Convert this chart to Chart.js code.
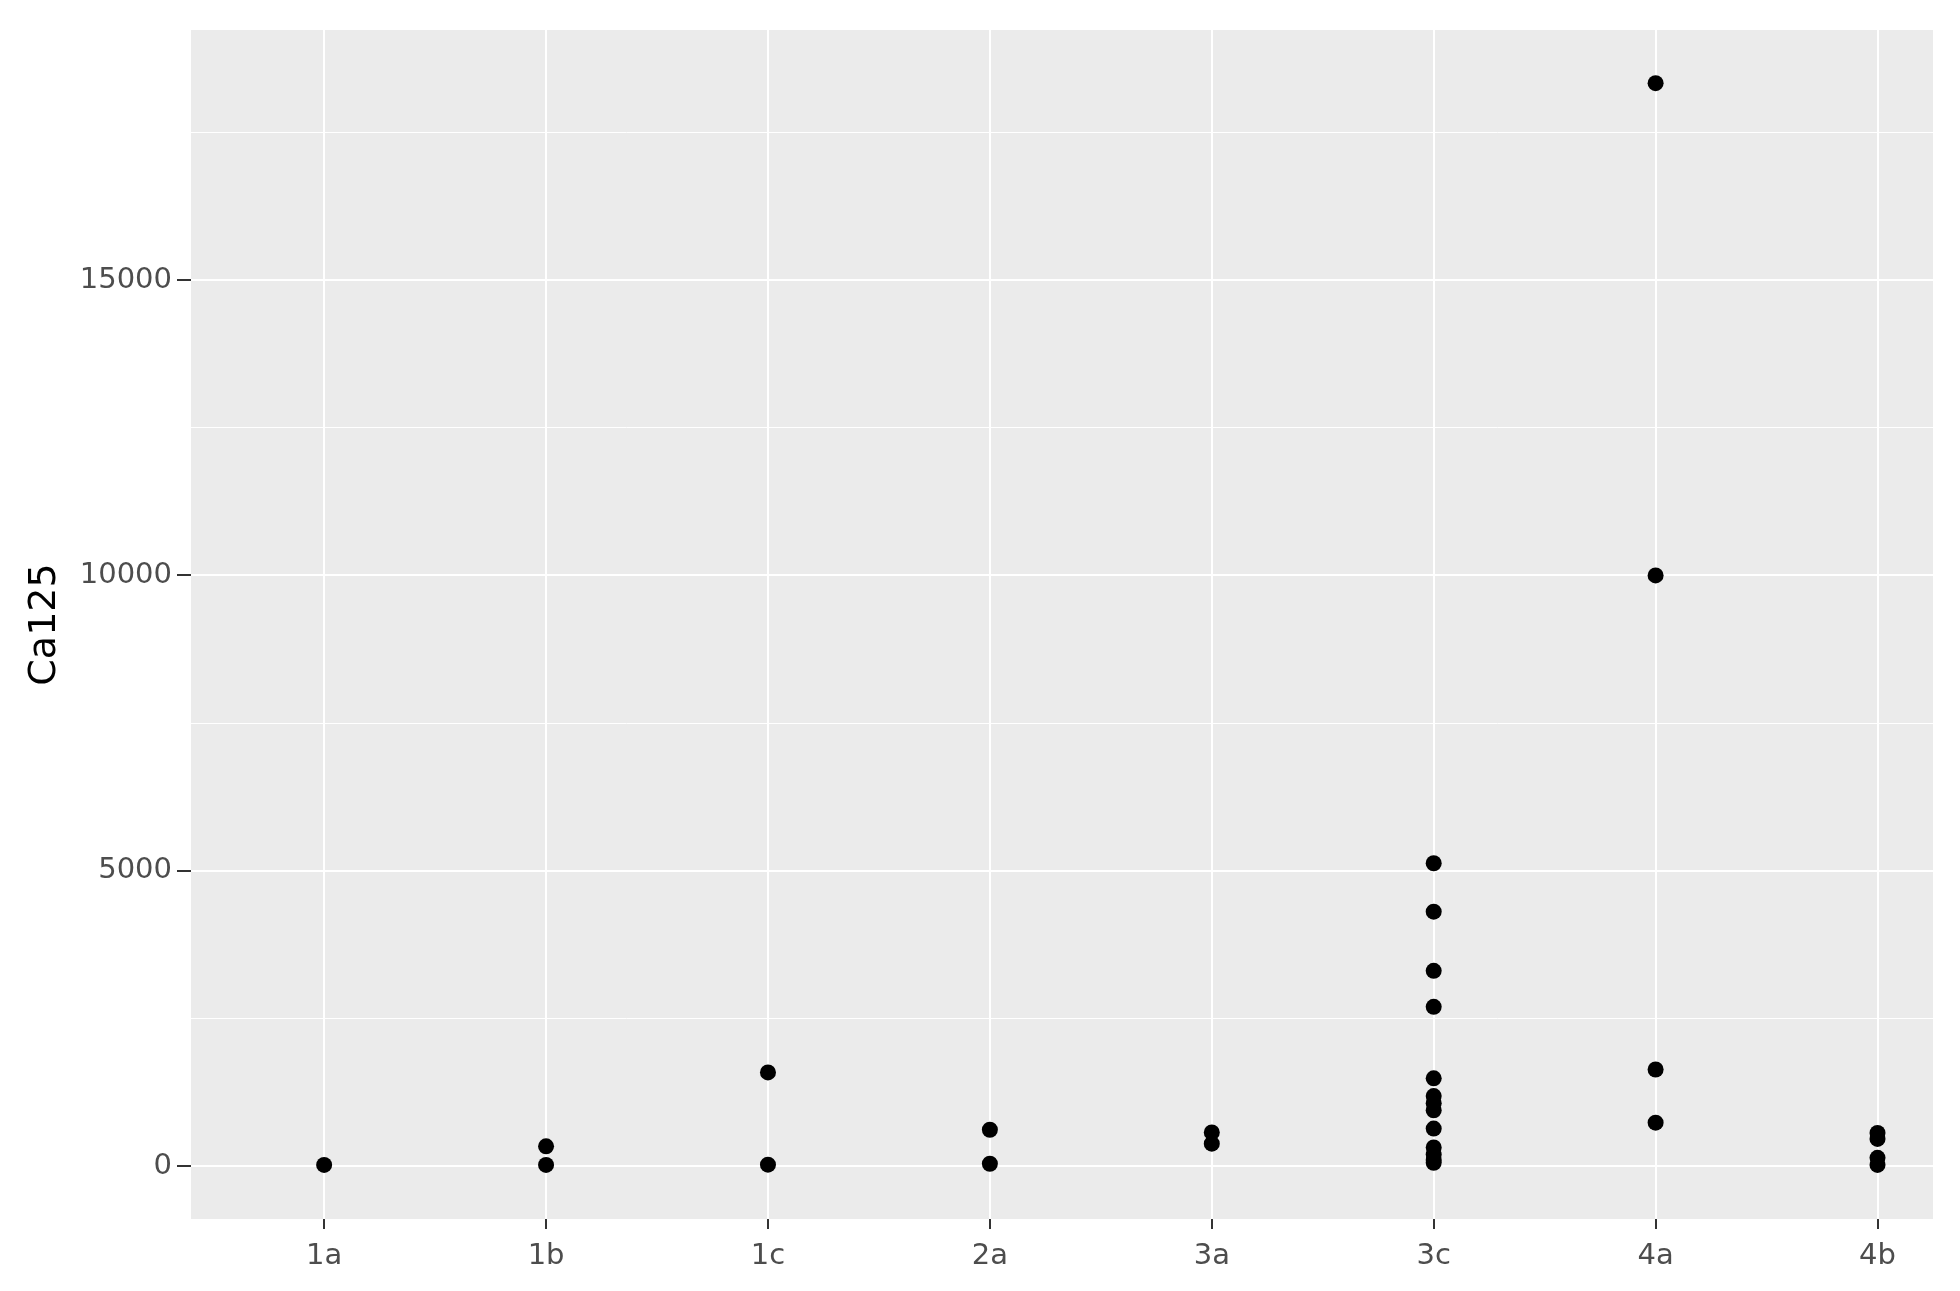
<!DOCTYPE html>
<html>
<head>
<meta charset="utf-8">
<script src="https://cdn.jsdelivr.net/npm/chart.js@4"></script>
<style>
  html, body { margin: 0; padding: 0; background: #ffffff; }
  #wrap { width: 1960px; height: 1291px; }
</style>
</head>
<body>
<div id="wrap"><canvas id="chart" width="1960" height="1291"></canvas></div>
<script>
// categories on the x axis
const stages = ['1a', '1b', '1c', '2a', '3a', '3c', '4a', '4b'];

// Ca125 values, one list per stage
const ca1a = [25];
const ca1b = [25, 340];
const ca1c = [30, 1590];
const ca2a = [45, 620];
const ca3a = [385, 575];
const ca3c = [60, 110, 200, 320, 640, 950, 1070, 1190, 1490, 2700, 3310, 4310, 5130];
const ca4a = [740, 1640, 10000, 18330];
const ca4b = [25, 145, 465, 565];

const yTicks = [0, 2500, 5000, 7500, 10000, 12500, 15000, 17500];

var groups = [ca1a, ca1b, ca1c, ca2a, ca3a, ca3c, ca4a, ca4b];
var points = [];
for (var i = 0; i < groups.length; i++) {
  for (var j = 0; j < groups[i].length; j++) {
    points.push({ x: i, y: groups[i][j] });
  }
}

// grey panel behind the plot area
const panelBg = {
  id: 'panelBg',
  beforeDraw: function(chart) {
    var a = chart.chartArea;
    var ctx = chart.ctx;
    ctx.save();
    ctx.fillStyle = '#ebebeb';
    ctx.fillRect(a.left, a.top, a.right - a.left, a.bottom - a.top);
    ctx.restore();
  }
};

var tickFont = { family: 'DejaVu Sans', size: 29 };

var config = {
  type: 'scatter',
  data: {
    datasets: [{
      label: 'Ca125',
      data: points,
      backgroundColor: '#000000',
      borderColor: '#000000',
      pointRadius: 8,
      pointHoverRadius: 8,
      borderWidth: 0
    }]
  },
  options: {
    responsive: false,
    animation: false,
    layout: { padding: { top: 30, right: 27, left: 0, bottom: 0 } },
    plugins: {
      legend: { display: false },
      tooltip: { enabled: false }
    },
    scales: {
      x: {
        type: 'linear',
        min: -0.6,
        max: 7.25,
        afterBuildTicks: function(s) {
          s.ticks = stages.map(function(c, i) { return { value: i }; });
        },
        afterFit: function(s) { s.height = 72; },
        border: { display: false },
        grid: {
          color: '#ffffff',
          lineWidth: 2,
          drawTicks: true,
          tickLength: 10,
          tickColor: '#333333',
          tickWidth: 2
        },
        ticks: {
          color: '#4d4d4d',
          font: tickFont,
          padding: 10,
          maxRotation: 0,
          callback: function(v) { return stages[v]; }
        }
      },
      y: {
        type: 'linear',
        min: -890,
        max: 19230,
        afterBuildTicks: function(s) {
          s.ticks = yTicks.map(function(v) { return { value: v }; });
        },
        afterFit: function(s) { s.width = 191; },
        border: { display: false },
        grid: {
          color: '#ffffff',
          lineWidth: function(c) { return c.tick && c.tick.value % 5000 === 0 ? 2 : 1; },
          drawTicks: true,
          tickLength: 14,
          tickColor: function(c) { return c.tick && c.tick.value % 5000 === 0 ? '#333333' : 'rgba(0,0,0,0)'; },
          tickWidth: 2
        },
        ticks: {
          color: '#4d4d4d',
          font: tickFont,
          padding: 5,
          callback: function(v) { return v % 5000 === 0 ? String(v) : ''; }
        },
        title: {
          display: true,
          text: 'Ca125',
          color: '#000000',
          font: { family: 'DejaVu Sans', size: 38 },
          padding: { top: 22, bottom: 8 }
        }
      }
    }
  },
  plugins: [panelBg]
};

var chart = new Chart(document.getElementById('chart'), config);
</script>
</body>
</html>
